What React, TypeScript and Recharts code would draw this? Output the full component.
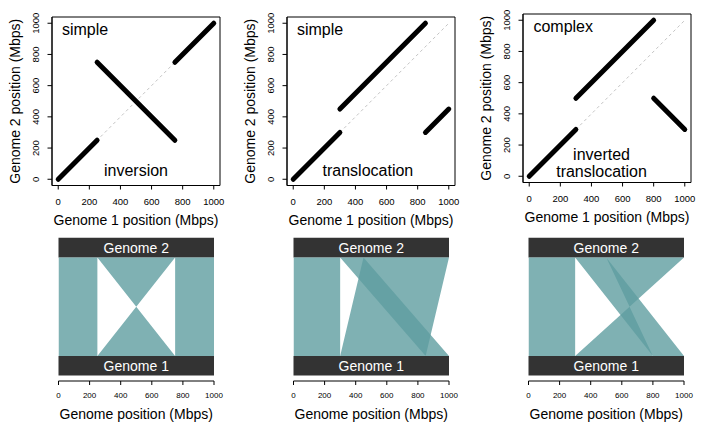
import React from "react";
import {
  ComposedChart,
  Line,
  Area,
  XAxis,
  YAxis,
  ReferenceArea,
  ReferenceDot,
} from "recharts";

// tick labels shared by every panel
const ticks = [0, 200, 400, 600, 800, 1000];

// dot plots: each segment is a list of (genome 1, genome 2) points
const diagonal = [
  { g1: 0, g2: 0 },
  { g1: 1000, g2: 1000 },
];

const inversionSegs = [
  [{ g1: 0, g2: 0 }, { g1: 250, g2: 250 }],
  [{ g1: 250, g2: 750 }, { g1: 750, g2: 250 }],
  [{ g1: 750, g2: 750 }, { g1: 1000, g2: 1000 }],
];

const translocationSegs = [
  [{ g1: 0, g2: 0 }, { g1: 300, g2: 300 }],
  [{ g1: 300, g2: 450 }, { g1: 850, g2: 1000 }],
  [{ g1: 850, g2: 300 }, { g1: 1000, g2: 450 }],
];

const complexSegs = [
  [{ g1: 0, g2: 0 }, { g1: 300, g2: 300 }],
  [{ g1: 300, g2: 500 }, { g1: 800, g2: 1000 }],
  [{ g1: 800, g2: 500 }, { g1: 1000, g2: 300 }],
];

// ribbons: genome 1 interval [a, b] linked to genome 2 interval [c, d]
const inversionRibbons = [
  { g1: [0, 250], g2: [0, 250] },
  { g1: [250, 750], g2: [750, 250] },
  { g1: [750, 1000], g2: [750, 1000] },
];

const translocationRibbons = [
  { g1: [0, 300], g2: [0, 300] },
  { g1: [300, 850], g2: [450, 1000] },
  { g1: [850, 1000], g2: [300, 450] },
];

const complexRibbons = [
  { g1: [0, 300], g2: [0, 300] },
  { g1: [300, 800], g2: [1000, 500] },
  { g1: [800, 1000], g2: [300, 500] },
];

const FONT = "'Liberation Sans', Arial, Helvetica, sans-serif";
const RIBBON = "#5f9ea0";

const YTick = (props: any) => {
  const { x, y, payload } = props;
  return (
    <text
      x={x}
      y={y}
      transform={`rotate(-90 ${x} ${y})`}
      textAnchor="middle"
      fontSize={9.5}
      fill="#000"
    >
      {payload.value}
    </text>
  );
};

type Note = { text: string; x: number; y: number; anchor: "left" | "center" };

function DotPlot({
  segs,
  notes,
  left,
  top,
}: {
  segs: { g1: number; g2: number }[][];
  notes: Note[];
  left: number;
  top: number;
}) {
  return (
    <div style={{ position: "absolute", left, top }}>
      <ComposedChart
        width={235}
        height={232}
        margin={{ top: 17, right: 15, bottom: 1.5, left: 12 }}
      >
        <XAxis
          type="number"
          dataKey="g1"
          domain={[-40, 1040]}
          ticks={ticks}
          allowDataOverflow
          height={45}
          stroke="#000"
          tickSize={4}
          tickMargin={9}
          tick={{ fontSize: 9.5, fill: "#000" }}
          label={{
            value: "Genome 1 position (Mbps)",
            position: "insideBottom",
            offset: 6,
            fontSize: 14,
            fill: "#000",
          }}
        />
        <YAxis
          type="number"
          dataKey="g2"
          domain={[-40, 1040]}
          ticks={ticks}
          allowDataOverflow
          width={40}
          stroke="#000"
          tickSize={4.5}
          tickMargin={8}
          tick={(p: any) => <YTick {...p} />}
          label={{
            value: "Genome 2 position (Mbps)",
            angle: -90,
            position: "insideLeft",
            offset: 3.5,
            fontSize: 14,
            fill: "#000",
            style: { textAnchor: "middle" },
          }}
        />
        <ReferenceArea
          x1={-40}
          x2={1040}
          y1={-40}
          y2={1040}
          fill="none"
          stroke="#000"
          strokeWidth={1}
        />
        <Line
          data={diagonal}
          dataKey="g2"
          type="linear"
          stroke="#c4c4c4"
          strokeWidth={1}
          strokeDasharray="3 3"
          dot={false}
          activeDot={false}
          isAnimationActive={false}
        />
        {segs.map((s, i) => (
          <Line
            key={i}
            data={s}
            dataKey="g2"
            type="linear"
            stroke="#000"
            strokeWidth={5}
            strokeLinecap="round"
            dot={false}
            activeDot={false}
            isAnimationActive={false}
          />
        ))}
        {notes.map((n, i) => (
          <ReferenceDot
            key={`n${i}`}
            x={n.x}
            y={n.y}
            r={0}
            fill="none"
            stroke="none"
            label={{
              value: n.text,
              position: n.anchor === "left" ? "right" : "center",
              offset: 0,
              fontSize: 16,
              fill: "#000",
            }}
          />
        ))}
      </ComposedChart>
    </div>
  );
}

const toPolygon = (r: { g1: number[]; g2: number[] }) => [
  { pos: r.g1[0], side: 0 },
  { pos: r.g2[0], side: 1 },
  { pos: r.g2[1], side: 1 },
  { pos: r.g1[1], side: 0 },
];

function Synteny({
  ribbons,
  left,
}: {
  ribbons: { g1: number[]; g2: number[] }[];
  left: number;
}) {
  return (
    <div style={{ position: "absolute", left, top: 225 }}>
      <ComposedChart
        width={235}
        height={207}
        margin={{ top: 12.7, right: 21, bottom: 6, left: 58.5 }}
      >
        <XAxis
          type="number"
          dataKey="pos"
          domain={[0, 1000]}
          ticks={ticks}
          allowDataOverflow
          height={45}
          stroke="#000"
          tickSize={4}
          tickMargin={7}
          tick={{ fontSize: 8, fill: "#000" }}
          label={{
            value: "Genome position (Mbps)",
            position: "insideBottom",
            offset: 6.7,
            fontSize: 14,
            fill: "#000",
          }}
        />
        <YAxis hide type="number" domain={[-0.255, 1.2]} allowDataOverflow />
        <ReferenceArea
          x1={0}
          x2={1000}
          y1={1}
          y2={1.2}
          fill="#333333"
          fillOpacity={1}
          stroke="none"
          label={{ value: "Genome 2", position: "center", fill: "#fff", fontSize: 14 }}
        />
        <ReferenceArea
          x1={0}
          x2={1000}
          y1={-0.2}
          y2={0}
          fill="#333333"
          fillOpacity={1}
          stroke="none"
          label={{ value: "Genome 1", position: "center", fill: "#fff", fontSize: 14 }}
        />
        {ribbons.map((r, i) => (
          <Area
            key={i}
            data={toPolygon(r)}
            dataKey="side"
            type="linear"
            baseValue={0}
            stroke="none"
            fill={RIBBON}
            fillOpacity={0.8}
            dot={false}
            activeDot={false}
            isAnimationActive={false}
          />
        ))}
      </ComposedChart>
    </div>
  );
}

export default function App() {
  return (
    <div
      style={{
        position: "absolute",
        left: 0,
        top: 0,
        width: 703,
        height: 432,
        background: "#fff",
        fontFamily: FONT,
      }}
    >
      <DotPlot
        segs={inversionSegs}
        left={0}
        top={0}
        notes={[
          { text: "simple", x: 24, y: 963, anchor: "left" },
          { text: "inversion", x: 500, y: 60, anchor: "center" },
        ]}
      />
      <DotPlot
        segs={translocationSegs}
        left={235}
        top={0}
        notes={[
          { text: "simple", x: 24, y: 963, anchor: "left" },
          { text: "translocation", x: 480, y: 60, anchor: "center" },
        ]}
      />
      <DotPlot
        segs={complexSegs}
        left={470.5}
        top={-3.5}
        notes={[
          { text: "complex", x: 27, y: 963, anchor: "left" },
          { text: "inverted", x: 465, y: 140, anchor: "center" },
          { text: "translocation", x: 465, y: 34, anchor: "center" },
        ]}
      />
      <Synteny ribbons={inversionRibbons} left={0} />
      <Synteny ribbons={translocationRibbons} left={235} />
      <Synteny ribbons={complexRibbons} left={470.3} />
    </div>
  );
}
